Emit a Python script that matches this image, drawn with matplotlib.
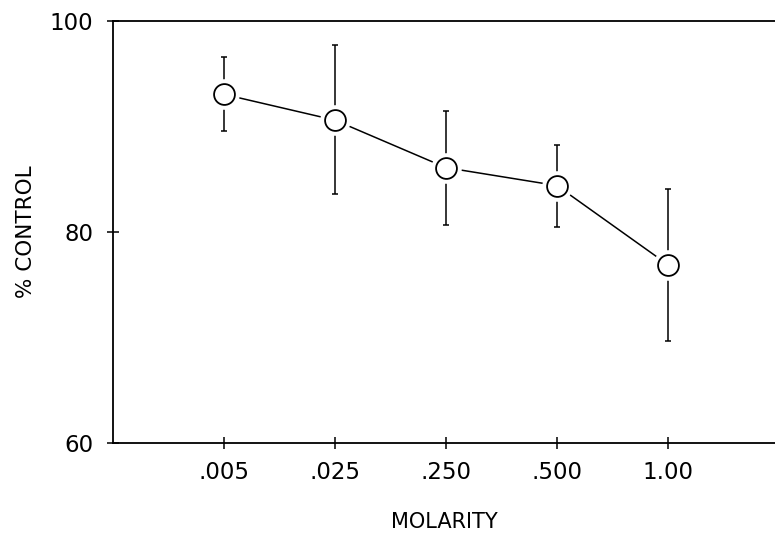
import numpy as np
import matplotlib
matplotlib.use('Agg')
import matplotlib.pyplot as plt

# data
molarity = ['.005', '.025', '.250', '.500', '1.00']
pct_control = [93.05, 90.6, 86.1, 84.4, 76.9]
err_upper = [96.6, 97.7, 91.5, 88.2, 84.1]
err_lower = [89.6, 83.6, 80.7, 80.5, 69.7]

plt.rcParams['font.family'] = ['DejaVu Sans']

x = np.arange(1, len(molarity) + 1)
y = np.array(pct_control)
yerr = [y - np.array(err_lower), np.array(err_upper) - y]

fig = plt.figure(figsize=(7.75, 5.35), dpi=100)
ax = fig.add_axes([113/775, 1 - 443/535, 1 - 113/775, (443 - 21)/535])

ax.errorbar(x, y, yerr=yerr, fmt='none', ecolor='black', elinewidth=1.1,
            capsize=2.5, capthick=1.1, zorder=1)
ax.plot(x, y, '-', color='black', lw=1.1, zorder=2)
# white halo so the lines stop short of the circles
ax.plot(x, y, 'o', ms=21, mfc='white', mec='white', zorder=3)
ax.plot(x, y, 'o', ms=15, mfc='white', mec='black', mew=1.3, zorder=4)

ax.set_xlim(0, 5.965)
ax.set_ylim(60, 100)
ax.set_xticks(x)
ax.set_xticklabels(molarity)
ax.set_yticks([60, 80, 100])

ax.spines['right'].set_visible(False)
for s in ['left', 'bottom', 'top']:
    ax.spines[s].set_linewidth(1.3)

ax.tick_params(axis='both', direction='inout', length=8, width=1.1,
               labelsize=16.5, colors='black')
ax.tick_params(axis='x', pad=9)
ax.tick_params(axis='y', pad=10)

ax.set_xlabel('MOLARITY', fontsize=15, labelpad=20)
ax.set_ylabel('% CONTROL', fontsize=15.5, labelpad=10)

fig.savefig('out.png', dpi=100)
